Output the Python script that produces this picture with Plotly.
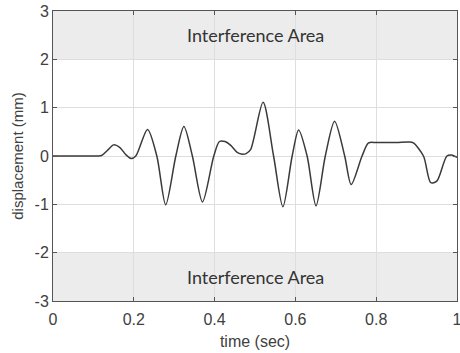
import plotly.graph_objects as go

time_s = [0, 0.06, 0.11, 0.12, 0.135, 0.15, 0.165, 0.18, 0.193, 0.205, 0.234, 0.257, 0.279, 0.304,
          0.324, 0.345, 0.37, 0.398, 0.412, 0.426, 0.44, 0.455, 0.466, 0.478, 0.489,
          0.52, 0.546, 0.569, 0.592, 0.608, 0.629, 0.651, 0.674, 0.697, 0.722, 0.738,
          0.765, 0.781, 0.8, 0.85, 0.88, 0.892, 0.917, 0.935, 0.95, 0.975, 0.987, 1.0]
displacement = [0, 0, 0, 0.01, 0.12, 0.23, 0.18, 0.03, -0.05, 0, 0.55, 0, -1.01, 0,
                0.61, 0, -0.95, 0, 0.3, 0.3, 0.22, 0.08, 0.04, 0.05, 0.13,
                1.11, 0, -1.05, 0, 0.54, 0, -1.03, 0, 0.72, 0, -0.59,
                0, 0.27, 0.28, 0.28, 0.29, 0.27, 0, -0.55, -0.52, 0, 0.02, -0.03]

x_ticks = [0, 0.2, 0.4, 0.6, 0.8, 1]
x_tick_labels = ["0", "0.2", "0.4", "0.6", "0.8", "1"]
y_ticks = [-3, -2, -1, 0, 1, 2, 3]
y_tick_labels = ["-3", "-2", "-1", "0", "1", "2", "3"]
band_label = "Interference Area"

fig = go.Figure()

fig.add_shape(type="rect", xref="x", yref="y", x0=0, x1=1, y0=2, y1=3,
              fillcolor="#ececec", line=dict(width=0), layer="below")
fig.add_shape(type="rect", xref="x", yref="y", x0=0, x1=1, y0=-3, y1=-2,
              fillcolor="#ececec", line=dict(width=0), layer="below")

fig.add_trace(go.Scatter(x=time_s, y=displacement, mode="lines",
                         line=dict(color="#3a3a3a", width=1.5, shape="spline", smoothing=0.8),
                         showlegend=False, cliponaxis=True))

for yy in (2.5, -2.5):
    fig.add_annotation(x=0.5, y=yy, xref="x", yref="y", text=band_label, showarrow=False,
                       font=dict(family="Lato, Noto Sans, sans-serif", size=18, color="#333333"))

font_main = "Liberation Sans, Arial, sans-serif"
axis_common = dict(showline=True, linecolor="#555555", linewidth=1, mirror="ticks",
                   ticks="inside", ticklen=4, tickcolor="#555555", automargin=False,
                   showgrid=True, gridcolor="#dedede", gridwidth=1, zeroline=False,
                   ticklabeloverflow="allow",
                   tickfont=dict(family=font_main, size=16, color="#404040"),
                   title_font=dict(family=font_main, size=15, color="#404040"))

fig.update_xaxes(range=[0, 1], tickvals=x_ticks, ticktext=x_tick_labels, ticklabelstandoff=4,
                 title_text="time (sec)", title_standoff=8, **axis_common)
fig.update_yaxes(range=[-3, 3], tickvals=y_ticks, ticktext=y_tick_labels,
                 title_text="displacement (mm)", title_standoff=7, **axis_common)
fig.update_xaxes(title_font_size=16)

fig.update_layout(width=460, height=353, margin=dict(l=53, r=3, t=11, b=52),
                  plot_bgcolor="white", paper_bgcolor="white")

fig.write_html("out.html", config={"displayModeBar": False},
               post_script="document.body.style.margin='0';document.body.style.overflow='hidden';")
